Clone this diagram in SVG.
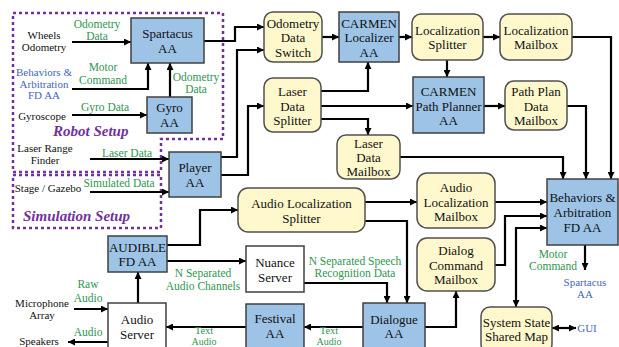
<svg xmlns="http://www.w3.org/2000/svg" width="619" height="347" viewBox="0 0 619 347">
<defs>
<marker id="ah" viewBox="0 0 8 8" refX="8" refY="4" markerWidth="7" markerHeight="7" markerUnits="userSpaceOnUse" orient="auto-start-reverse"><path d="M0,0 L8,4 L0,8 z" fill="#000"/></marker>
<style>
.blue{fill:#9DC3E6;stroke:#404040;stroke-width:1.5}
.yel{fill:#FFF8CC;stroke:#505050;stroke-width:1.5}
.wht{fill:#fff;stroke:#404040;stroke-width:1.5}
text{font-family:"Liberation Serif","Times New Roman",serif;text-anchor:middle}
.n{font-size:13px;fill:#111}
.k{font-size:11px;fill:#111}
.g{font-size:11.5px;fill:#2E9650}
.b{font-size:11px;fill:#4466C0}
.t{font-size:10.5px}
.setup{font-size:15px;font-weight:bold;font-style:italic;fill:#7030A0;text-anchor:start}
.dash{fill:none;stroke:#7030A0;stroke-width:2.5;stroke-dasharray:3 3}
.c path{fill:none;stroke:#000;stroke-width:2.2;marker-end:url(#ah)}
</style>
</defs>
<rect width="619" height="347" fill="#fff"/>
<g id="setups">
<path class="dash" d="M13,13 H223 V139 H161 V172 H13 Z"/>
<path class="dash" d="M13,175 H161 V228 H13 Z"/>
<text class="setup" x="53" y="136">Robot Setup</text>
<text class="setup" x="23" y="221">Simulation Setup</text>
</g>
<g class="c" id="connectors">
<path d="M72,42 H131"/>
<path d="M72,89 H148 V63"/>
<path d="M72,115 H147"/>
<path d="M170,97 V63"/>
<path d="M204,41 H235 V27 H264"/>
<path d="M221,157 H237 V50 H264"/>
<path d="M221,175 H248 V106 H264"/>
<path d="M90,159 H169"/>
<path d="M90,192 H169"/>
<path d="M322,37 H339"/>
<path d="M399,37 H412"/>
<path d="M483,37 H500"/>
<path d="M447,60 V77"/>
<path d="M321,91 H368 V62"/>
<path d="M321,106 H413"/>
<path d="M321,119 H368 V135"/>
<path d="M484,106 H505"/>
<path d="M572,37 H611 V179"/>
<path d="M567,106 H586 V179"/>
<path d="M400,157 H563 V179"/>
<path d="M365,202 H417"/>
<path d="M365,221 H407 V303"/>
<path d="M495,202 H547"/>
<path d="M495,265 H505 V216 H547"/>
<path d="M516,307 V228 H547" style="marker-start:url(#ah)"/>
<path d="M585,245 V270"/>
<path d="M552,328 H576" style="marker-start:url(#ah)"/>
<path d="M167,245 H200 V210 H238"/>
<path d="M167,261 H246"/>
<path d="M304,283 H387 V303"/>
<path d="M425,327 H456 V291"/>
<path d="M363,327 H304"/>
<path d="M246,327 H166"/>
<path d="M138,303 V272"/>
<path d="M74,309 H108"/>
<path d="M108,342 H68"/>
</g>
<g id="spartacus"><rect class="blue" x="131" y="18" width="73" height="45"/><text class="n" x="167.5" y="38">Spartacus</text><text class="n" x="167.5" y="53">AA</text></g>
<g id="gyro"><rect class="blue" x="147" y="97" width="45" height="36"/><text class="n" x="169.5" y="111.5">Gyro</text><text class="n" x="169.5" y="126.5">AA</text></g>
<g id="player"><rect class="blue" x="169" y="152" width="52" height="45"/><text class="n" x="195" y="171.5">Player</text><text class="n" x="195" y="186.5">AA</text></g>
<g id="odometry-switch"><rect class="yel" x="264" y="12" width="58" height="50" rx="9"/><text class="n" x="293" y="27.5">Odometry</text><text class="n" x="293" y="42">Data</text><text class="n" x="293" y="56.5">Switch</text></g>
<g id="carmen-localizer"><rect class="blue" x="339" y="12" width="60" height="50"/><text class="n" x="369" y="27.5">CARMEN</text><text class="n" x="369" y="42">Localizer</text><text class="n" x="369" y="56.5">AA</text></g>
<g id="localization-splitter"><rect class="yel" x="412" y="14" width="71" height="46" rx="9"/><text class="n" x="447.5" y="34.5">Localization</text><text class="n" x="447.5" y="48.5">Splitter</text></g>
<g id="localization-mailbox"><rect class="yel" x="500" y="14" width="72" height="46" rx="9"/><text class="n" x="536" y="34.5">Localization</text><text class="n" x="536" y="48.5">Mailbox</text></g>
<g id="path-planner"><rect class="blue" x="413" y="77" width="71" height="56"/><text class="n" x="448.5" y="95.5">CARMEN</text><text class="n" x="448.5" y="110.5">Path Planner</text><text class="n" x="448.5" y="124.5">AA</text></g>
<g id="path-plan-mailbox"><rect class="yel" x="505" y="81" width="62" height="49" rx="9"/><text class="n" x="536" y="95.5">Path Plan</text><text class="n" x="536" y="110.5">Data</text><text class="n" x="536" y="124.5">Mailbox</text></g>
<g id="laser-splitter"><rect class="yel" x="264" y="78" width="57" height="54" rx="9"/><text class="n" x="292.5" y="95.5">Laser</text><text class="n" x="292.5" y="110.5">Data</text><text class="n" x="292.5" y="125">Splitter</text></g>
<g id="laser-mailbox"><rect class="yel" x="337" y="135" width="63" height="44" rx="9"/><text class="n" x="368.5" y="147.5">Laser</text><text class="n" x="368.5" y="161.5">Data</text><text class="n" x="368.5" y="175.5">Mailbox</text></g>
<g id="audio-loc-splitter"><rect class="yel" x="238" y="188" width="127" height="44" rx="10"/><text class="n" x="301.5" y="207.5">Audio Localization</text><text class="n" x="301.5" y="222.5">Splitter</text></g>
<g id="audio-loc-mailbox"><rect class="yel" x="417" y="173" width="78" height="55" rx="10"/><text class="n" x="456" y="191.5">Audio</text><text class="n" x="456" y="206.5">Localization</text><text class="n" x="456" y="220.5">Mailbox</text></g>
<g id="dialog-mailbox"><rect class="yel" x="417" y="238" width="78" height="53" rx="10"/><text class="n" x="456" y="254.5">Dialog</text><text class="n" x="456" y="269.5">Command</text><text class="n" x="456" y="283.5">Mailbox</text></g>
<g id="behaviors"><rect class="blue" x="547" y="179" width="71" height="66"/><text class="n" x="582.5" y="201.5">Behaviors &amp;</text><text class="n" x="582.5" y="216.5">Arbitration</text><text class="n" x="582.5" y="231.5">FD AA</text></g>
<g id="system-state"><rect class="yel" x="481" y="307" width="71" height="46" rx="9"/><text class="n" x="516.5" y="326.5">System State</text><text class="n" x="516.5" y="340.5">Shared Map</text></g>
<g id="dialogue"><rect class="blue" x="363" y="303" width="62" height="50"/><text class="n" x="394" y="323.5">Dialogue</text><text class="n" x="394" y="337.5">AA</text></g>
<g id="festival"><rect class="blue" x="246" y="304" width="58" height="50"/><text class="n" x="275" y="322.5">Festival</text><text class="n" x="275" y="337.5">AA</text></g>
<g id="audio-server"><rect class="wht" x="108" y="303" width="58" height="50"/><text class="n" x="137" y="323.5">Audio</text><text class="n" x="137" y="338.5">Server</text></g>
<g id="audible"><rect class="blue" x="108" y="236" width="59" height="36"/><text class="n" x="137.5" y="251.5">AUDIBLE</text><text class="n" x="137.5" y="265.5">FD AA</text></g>
<g id="nuance"><rect class="wht" x="246" y="246" width="58" height="46"/><text class="n" x="275" y="266.5">Nuance</text><text class="n" x="275" y="281.5">Server</text></g>
<g id="labels">
<text class="k" x="44" y="39">Wheels</text><text class="k" x="44" y="51">Odometry</text>
<text class="g" x="97" y="28">Odometry</text><text class="g" x="97" y="40">Data</text>
<text class="b" x="44" y="76">Behaviors &amp;</text><text class="b" x="44" y="87.5">Arbitration</text><text class="b" x="44" y="99">FD AA</text>
<text class="g" x="103" y="71">Motor</text><text class="g" x="103" y="84">Command</text>
<text class="k" x="42" y="120">Gyroscope</text>
<text class="g" x="105" y="111">Gyro Data</text>
<text class="g" x="196" y="81">Odometry</text><text class="g" x="196" y="93">Data</text>
<text class="k" x="45" y="152">Laser Range</text><text class="k" x="45" y="164">Finder</text>
<text class="g" x="127" y="157">Laser Data</text>
<text class="k" x="48" y="192">Stage / Gazebo</text>
<text class="g" x="119" y="187">Simulated Data</text>
<text class="g" x="203" y="277">N Separated</text><text class="g" x="203" y="290">Audio Channels</text>
<text class="g" x="355" y="265">N Separated Speech</text><text class="g" x="355" y="277">Recognition Data</text>
<text class="g t" x="329" y="334">Text</text><text class="g" x="329" y="345" style="font-size:10px">Audio</text>
<text class="g t" x="204" y="334">Text</text><text class="g" x="204" y="345" style="font-size:10px">Audio</text>
<text class="g" x="88" y="288">Raw</text><text class="g" x="88" y="302">Audio</text>
<text class="k" x="42" y="307">Microphone</text><text class="k" x="42" y="319">Array</text>
<text class="g" x="88" y="336">Audio</text>
<text class="k" x="39" y="345">Speakers</text>
<text class="g" x="553" y="258">Motor</text><text class="g" x="553" y="270">Command</text>
<text class="b" x="585" y="286">Spartacus</text><text class="b" x="585" y="298">AA</text>
<text class="b" x="587" y="332">GUI</text>
</g>
</svg>
